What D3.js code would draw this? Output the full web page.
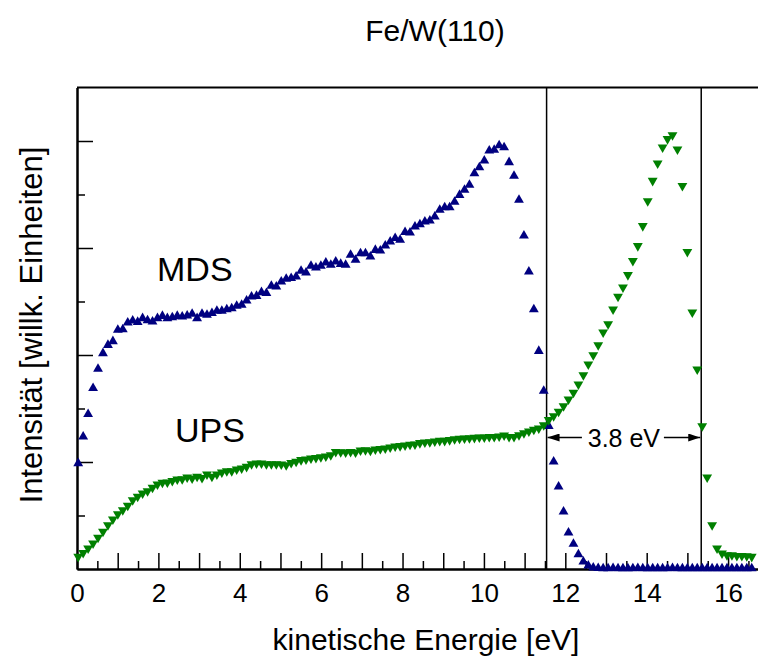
<!DOCTYPE html>
<html>
<head>
<meta charset="utf-8">
<script src="https://cdn.jsdelivr.net/npm/d3@7"></script>
<style>
  body { margin: 0; background: #fff; }
  svg { display: block; font-family: "Liberation Sans", Arial, sans-serif; }
</style>
</head>
<body>
<div id="chart"></div>
<script>
// energy grid of the spectra (eV): first point and spacing, 137 channels
const energyStart = 0.03;
const energyStep = 0.1217;

// MDS intensity (arb. units)
const mdsValues = [
  0.988, 1.236, 1.446, 1.689, 1.869, 2.016, 2.093, 2.128, 2.234, 2.240,
  2.302, 2.321, 2.308, 2.343, 2.324, 2.311, 2.343, 2.364, 2.343, 2.352,
  2.364, 2.358, 2.367, 2.383, 2.343, 2.383, 2.374, 2.390, 2.411, 2.411,
  2.427, 2.436, 2.458, 2.467, 2.507, 2.545, 2.551, 2.586, 2.577, 2.645,
  2.638, 2.685, 2.710, 2.717, 2.732, 2.785, 2.769, 2.832, 2.816, 2.832,
  2.863, 2.841, 2.872, 2.850, 2.841, 2.935, 2.888, 2.950, 2.950, 2.919,
  2.981, 2.975, 3.021, 3.059, 3.091, 3.075, 3.147, 3.143, 3.199, 3.221,
  3.246, 3.255, 3.293, 3.355, 3.380, 3.380, 3.430, 3.495, 3.542, 3.589,
  3.698, 3.754, 3.816, 3.909, 3.916, 3.958, 3.939, 3.801, 3.673, 3.449,
  3.115, 2.779, 2.427, 2.037, 1.664, 1.336, 1.003, 0.769, 0.536, 0.339,
  0.234, 0.137, 0.068, 0.031, 0.012, 0.008, 0.006, 0.006, 0.007, 0.006,
  0.005, 0.006, 0.006, 0.007, 0.006, 0.006, 0.005, 0.006, 0.006, 0.006,
  0.007, 0.006, 0.005, 0.006, 0.006, 0.006, 0.005, 0.006, 0.006, 0.006,
  0.005, 0.006, 0.006, 0.005, 0.006, 0.006, 0.005
];

// UPS intensity (arb. units)
const upsValues = [
  0.115, 0.152, 0.193, 0.240, 0.293, 0.349, 0.411, 0.464, 0.514, 0.551,
  0.592, 0.645, 0.676, 0.707, 0.729, 0.760, 0.792, 0.807, 0.810, 0.825,
  0.838, 0.841, 0.857, 0.848, 0.863, 0.853, 0.885, 0.863, 0.885, 0.904,
  0.916, 0.916, 0.932, 0.941, 0.956, 0.981, 0.988, 0.988, 0.981, 0.981,
  0.981, 0.979, 0.972, 0.993, 1.003, 1.019, 1.025, 1.035, 1.040, 1.047,
  1.053, 1.065, 1.096, 1.093, 1.091, 1.096, 1.091, 1.109, 1.112, 1.106,
  1.119, 1.124, 1.128, 1.137, 1.147, 1.150, 1.156, 1.162, 1.165, 1.178,
  1.184, 1.187, 1.193, 1.199, 1.199, 1.206, 1.215, 1.218, 1.221, 1.224,
  1.227, 1.231, 1.231, 1.236, 1.236, 1.240, 1.250, 1.236, 1.236, 1.252,
  1.271, 1.287, 1.302, 1.315, 1.346, 1.393, 1.430, 1.472, 1.523, 1.586,
  1.648, 1.726, 1.813, 1.913, 2.000, 2.093, 2.212, 2.290, 2.427, 2.545,
  2.633, 2.748, 2.881, 3.019, 3.206, 3.439, 3.629, 3.792, 3.941, 4.019,
  4.056, 3.922, 3.582, 2.965, 2.399, 1.866, 1.336, 0.857, 0.411, 0.193,
  0.147, 0.131, 0.131, 0.124, 0.124, 0.121, 0.115
];

const energies = mdsValues.map((_, i) => energyStart + i * energyStep);

// cut-off positions (eV) of both spectra
const edgeLines = [11.54, 15.34];
const edgeLabel = "3.8 eV";

const xMajorTicks = d3.range(0, 17, 1);
const xMinorTicks = d3.range(0.5, 17, 1);
const yMajorTicks = [1, 2, 3, 4];
const yMinorTicks = [0.5, 1.5, 2.5, 3.5];

const W = 758, H = 660;
const svg = d3.select("#chart").append("svg").attr("width", W).attr("height", H);

const x = d3.scaleLinear().domain([0, 16.75]).range([77, 758.6]);
const y = d3.scaleLinear().domain([0, 4.5]).range([569, 87.5]);

// frame: top line + axes
svg.append("line").attr("x1", x(0)).attr("x2", W).attr("y1", y(4.5)).attr("y2", y(4.5))
  .attr("stroke", "#000").attr("stroke-width", 2);

const xMajor = svg.append("g").attr("transform", `translate(0,${y(0)})`)
  .call(d3.axisBottom(x).tickValues(xMajorTicks).tickSizeInner(-16).tickSizeOuter(0).tickPadding(15)
    .tickFormat(d => d % 2 === 0 ? d : ""));
svg.append("g").attr("transform", `translate(0,${y(0)})`)
  .call(d3.axisBottom(x).tickValues(xMinorTicks).tickSizeInner(-8).tickSizeOuter(0).tickFormat(""));
svg.append("g").attr("transform", `translate(${x(0)},0)`)
  .call(d3.axisLeft(y).tickValues(yMajorTicks).tickSizeInner(-16).tickSizeOuter(0).tickFormat(""));
svg.append("g").attr("transform", `translate(${x(0)},0)`)
  .call(d3.axisLeft(y).tickValues(yMinorTicks).tickSizeInner(-8).tickSizeOuter(0).tickFormat(""));

svg.selectAll(".domain").attr("stroke-width", 2);
svg.selectAll(".tick line").attr("stroke-width", 1.5);
xMajor.selectAll("text").attr("font-size", 26).attr("fill", "#000")
  .attr("font-family", "Liberation Sans, Arial, sans-serif");

// vertical cut-off lines
svg.selectAll(".edge").data(edgeLines).join("line")
  .attr("x1", d => x(d)).attr("x2", d => x(d))
  .attr("y1", y(4.5)).attr("y2", y(0))
  .attr("stroke", "#000").attr("stroke-width", 1.5);

// markers
const tri = d3.symbol().type(d3.symbolTriangle).size(42);
svg.append("g").selectAll("path").data(mdsValues).join("path")
  .attr("d", tri)
  .attr("transform", (d, i) => `translate(${x(energies[i])},${y(d)})`)
  .attr("fill", "#000080");

svg.append("g").selectAll("path").data(upsValues).join("path")
  .attr("d", tri)
  .attr("transform", (d, i) => `translate(${x(energies[i])},${y(d)}) rotate(180)`)
  .attr("fill", "#008000");

// 3.8 eV arrows
const arrowY = 437.5;
const defs = svg.append("defs");
defs.append("marker").attr("id", "head").attr("viewBox", "0 0 12 8")
  .attr("refX", 12).attr("refY", 4).attr("markerWidth", 12).attr("markerHeight", 8)
  .attr("markerUnits", "userSpaceOnUse").attr("orient", "auto")
  .append("path").attr("d", "M0,0L12,4L0,8Z").attr("fill", "#000");

const midX = (x(edgeLines[0]) + x(edgeLines[1])) / 2;
svg.append("line").attr("x1", midX - 42).attr("x2", x(edgeLines[0]) + 1)
  .attr("y1", arrowY).attr("y2", arrowY).attr("stroke", "#000").attr("stroke-width", 1.5)
  .attr("marker-end", "url(#head)");
svg.append("line").attr("x1", midX + 40).attr("x2", x(edgeLines[1]) - 1)
  .attr("y1", arrowY).attr("y2", arrowY).attr("stroke", "#000").attr("stroke-width", 1.5)
  .attr("marker-end", "url(#head)");
svg.append("text").attr("x", midX).attr("y", arrowY + 9).attr("text-anchor", "middle")
  .attr("font-size", 25).text(edgeLabel);

// labels
svg.append("text").attr("x", 157).attr("y", 281).attr("font-size", 34).text("MDS");
svg.append("text").attr("x", 175).attr("y", 442).attr("font-size", 34).text("UPS");

svg.append("text").attr("x", 435).attr("y", 41).attr("text-anchor", "middle")
  .attr("font-size", 30).text("Fe/W(110)");
svg.append("text").attr("x", 426).attr("y", 650).attr("text-anchor", "middle")
  .attr("font-size", 30).text("kinetische Energie [eV]");
svg.append("text").attr("transform", "translate(42,325) rotate(-90)").attr("text-anchor", "middle")
  .attr("font-size", 31).text("Intensität [willk. Einheiten]");
</script>
</body>
</html>
